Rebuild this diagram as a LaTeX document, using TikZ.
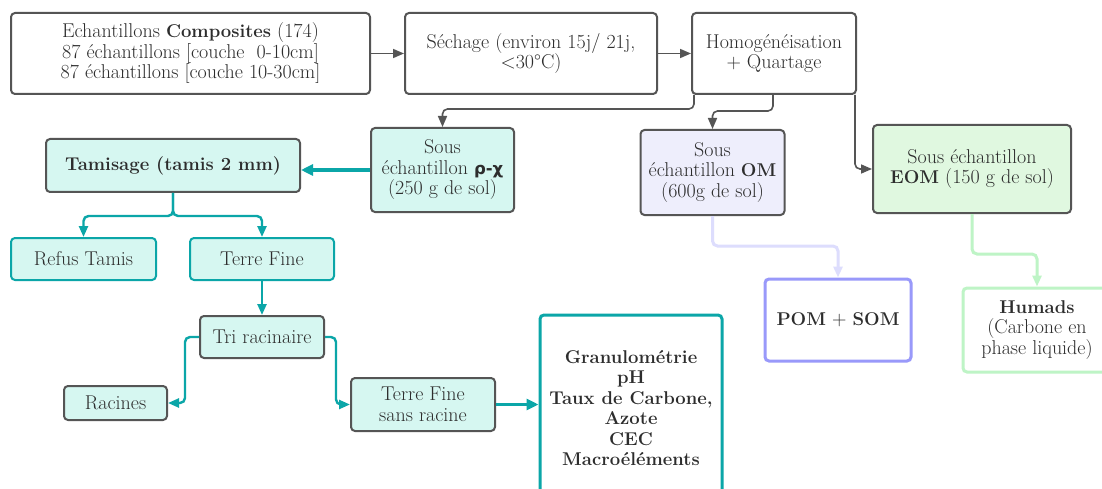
\documentclass[tikz,border=0pt]{standalone}
\usepackage{fontspec}
\newfontfamily\greekfont{DejaVu Sans}
\newcommand{\boldtxt}[1]{{\fontsize{18.5}{20}\selectfont\bfseries #1}}
\usetikzlibrary{arrows.meta}

\begin{document}
\begin{tikzpicture}[x=1pt,y=1pt,
  box/.style={draw=drawColor,line width=2pt,rounded corners=4pt,align=center,
    inner sep=0pt,text=textColor,font=\fontsize{20}{20.5}\selectfont},
  tealbox/.style={box,fill=tealFill},
  link/.style={draw=drawColor,line width=1.6pt,rounded corners=5pt,
    -{Triangle[length=11pt,width=9pt]}},
  teallink/.style={link,draw=tealColor,line width=2.4pt},
  heavylink/.style={teallink,line width=3.6pt,-{Triangle[length=12pt,width=11pt]}}]
\definecolor{drawColor}{RGB}{85,85,85}
\definecolor{textColor}{RGB}{45,45,45}
\definecolor{tealColor}{RGB}{11,166,168}
\definecolor{tealFill}{RGB}{214,247,241}
\definecolor{omFill}{RGB}{238,238,252}
\definecolor{eomFill}{RGB}{224,248,224}
\definecolor{pomColor}{RGB}{153,153,250}
\definecolor{pomLine}{RGB}{221,221,253}
\definecolor{humColor}{RGB}{190,244,198}
\path[use as bounding box,fill=white] (0,0) rectangle (1102,488);

\node[box,minimum width=359,minimum height=81] (comp) at (190.5,434.5)
  {Echantillons \boldtxt{Composites} (174)\\87 échantillons [couche\ \ 0-10cm]\\87 échantillons [couche 10-30cm]};
\node[box,minimum width=252,minimum height=81] (sech) at (531.0,434.5)
  {Séchage (environ 15j/ 21j,\\<30°C)};
\node[box,minimum width=164,minimum height=81] (homog) at (774.0,434.5)
  {Homogénéisation\\+ Quartage};

\node[tealbox,minimum width=143,minimum height=84] (rhochi) at (442.5,318.0)
  {Sous\\échantillon {\greekfont\bfseries\fontsize{16.5}{20}\selectfont ρ-χ}\\(250 g de sol)};
\node[box,fill=omFill,minimum width=144,minimum height=85] (om) at (712.5,315.5)
  {Sous\\échantillon \boldtxt{OM}\\(600g de sol)};
\node[box,fill=eomFill,minimum width=198,minimum height=88] (eom) at (972.0,319.0)
  {Sous échantillon\\\boldtxt{EOM} (150 g de sol)};

\node[tealbox,minimum width=254,minimum height=53] (tamis) at (173.0,322.5)
  {\boldtxt{Tamisage (tamis 2 mm)}};
\node[tealbox,draw=tealColor,minimum width=145,minimum height=42] (refus) at ( 83.5,229.0)
  {Refus Tamis};
\node[tealbox,draw=tealColor,minimum width=144,minimum height=42] (tfine) at (262.0,229.0)
  {Terre Fine};
\node[tealbox,minimum width=124,minimum height=42] (tri) at (262.0,151.0)
  {Tri racinaire};
\node[tealbox,minimum width=103,minimum height=34] (racines) at (115.5, 85.0)
  {Racines};
\node[tealbox,minimum width=144,minimum height=53] (tfsr) at (423.0, 83.5)
  {Terre Fine\\sans racine};
\node[box,draw=tealColor,line width=3pt,fill=white,
  minimum width=182,minimum height=186] (granulo) at (631.0, 80.0)
  {\boldtxt{Granulométrie}\\\boldtxt{pH}\\\boldtxt{Taux de Carbone,}\\\boldtxt{Azote}\\\boldtxt{CEC}\\\boldtxt{Macroéléments}};

\node[box,draw=pomColor,line width=3pt,fill=white,minimum width=146,minimum height=82] (pomsom) at (838.0,168.0)
  {\boldtxt{POM} + \boldtxt{SOM}};
\node[box,draw=humColor,line width=3pt,fill=white,minimum width=148,minimum height=84] (humads) at (1037.0,158.0)
  {\boldtxt{Humads}\\(Carbone en\\phase liquide)};

\draw[link] (comp.east) -- (sech.west);
\draw[link] (sech.east) -- (homog.west);
\draw[link] ([xshift=3]homog.south west) -- ++(0,-14) -| (rhochi.north);
\draw[link] ([xshift=-1]homog.south) -- ++(0,-16) -| (om.north);
\draw[link] ([xshift=-2]homog.south east) |- (eom.west);

\draw[heavylink] (rhochi.west) -- (rhochi.west -| tamis.east);
\draw[teallink] (tamis.south) -- ++(0,-23) -| (refus.north);
\draw[teallink] (tamis.south) -- ++(0,-23) -| (tfine.north);
\draw[teallink] (tfine.south) -- (tri.north);
\draw[teallink] (tri.west) -- ++(-14,0) |- (racines.east);
\draw[teallink] (tri.east) -- ++(11,0) |- (tfsr.west);
\draw[heavylink] (tfsr.east) -- (tfsr.east -| granulo.west);

\draw[link,draw=pomLine,line width=3pt] (om.south) -- ++(0,-30) -| (pomsom.north);
\draw[link,draw=humColor,line width=3pt] (eom.south) -- ++(0,-40) -| (humads.north);
\end{tikzpicture}
\end{document}
